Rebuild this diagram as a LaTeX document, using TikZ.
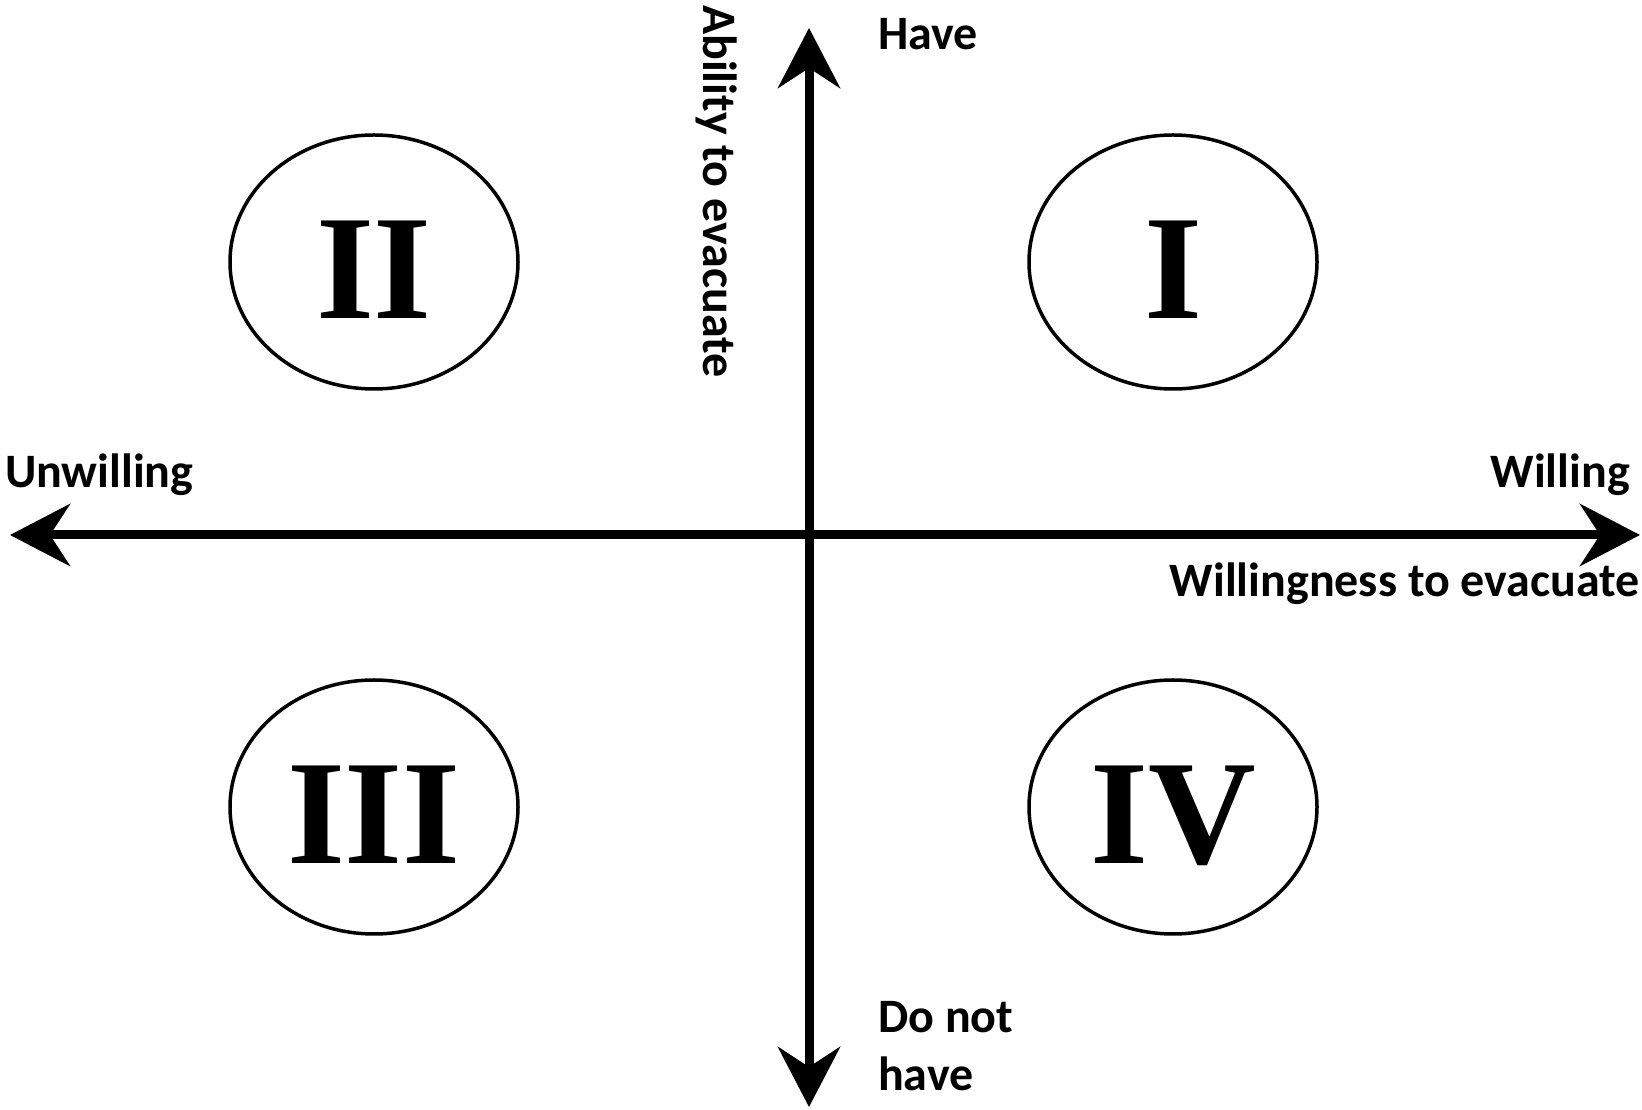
\documentclass[tikz,border=0pt]{standalone}
\usepackage{fontspec}
\setmainfont{Carlito}
\newfontfamily\numfont{Liberation Serif}
\usetikzlibrary{arrows.meta,shapes.geometric,positioning}

\begin{document}
\begin{tikzpicture}[
  x=1pt, y=1pt,
  every node/.style={font=\bfseries\fontsize{48}{58}\selectfont, inner sep=0pt},
  quad/.style={ellipse, draw=black, line width=3.5pt, minimum width=288pt, minimum height=254pt, font=\numfont\bfseries\fontsize{149}{149}\selectfont},
  ax/.style={-{Stealth[length=60pt, width=62pt, inset=20pt]}, line width=9pt}
]
  \useasboundingbox (0,0) rectangle (1642,1109);
  % axes
  \coordinate (o) at (809,574);
  \coordinate (top) at (809,1081);
  \coordinate (bot) at (809,2);
  \coordinate (lft) at (10,574);
  \coordinate (rgt) at (1640,574);
  \draw[ax] (o) -- (top);
  \draw[ax] (o) -- (bot);
  \draw[ax] (o) -- (lft);
  \draw[ax] (o) -- (rgt);
  % quadrants
  \node[quad] (q2) at (374,847) {\raisebox{-57pt}[50pt][50pt]{II}};
  \node[quad] (q1) at (1173,847) {\raisebox{-57pt}[50pt][50pt]{I}};
  \node[quad] (q3) at (374,302) {\raisebox{-57pt}[50pt][50pt]{III}};
  \node[quad] (q4) at (1173,302) {\raisebox{-57pt}[50pt][50pt]{IV}};
  % labels
  \node[anchor=base west] (have) at (878,1059) {Have};
  \node[anchor=base west, rotate=-90] (abl) at (703,1104) {Ability to evacuate};
  \node[anchor=base west] (unw) at (5,621) {Unwilling};
  \node[anchor=base east] (wil) at (1630,621) {Willing};
  \node[anchor=base east] (wte) at (1640,512) {Willingness to evacuate};
  \node[anchor=base west] (dnt) at (878,76) {Do not};
  \node[anchor=base west] (hv2) at (878,18) {have};
\end{tikzpicture}
\end{document}
